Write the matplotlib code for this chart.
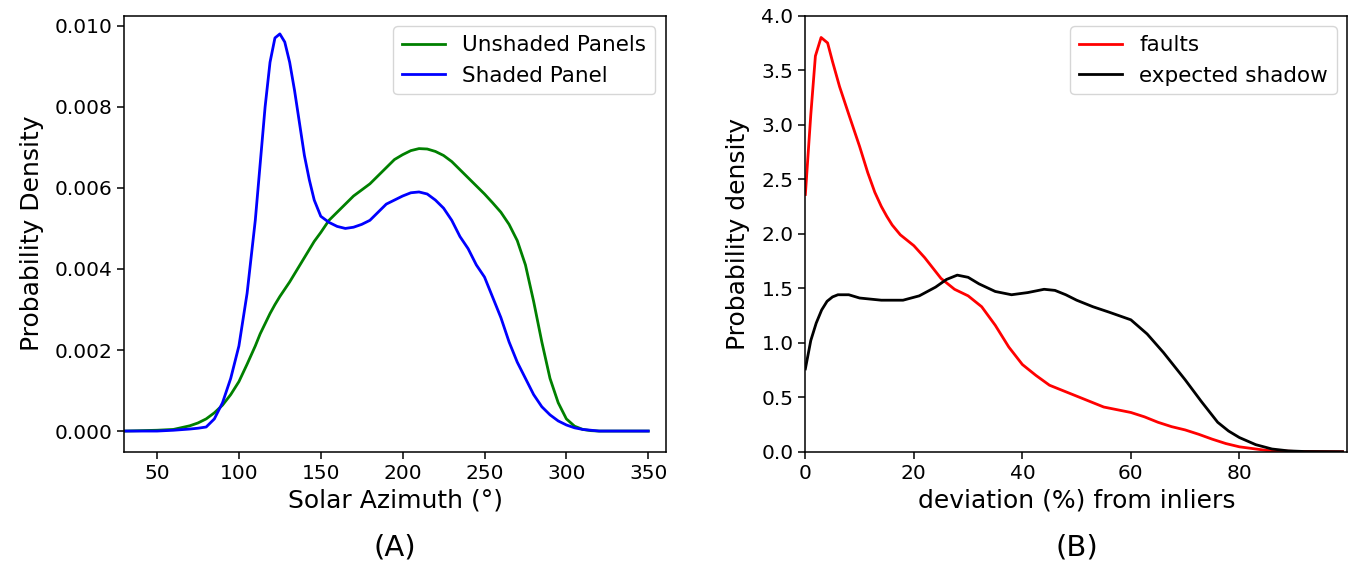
import matplotlib
matplotlib.use('Agg')
import matplotlib.pyplot as plt

# Panel A: probability density of solar azimuth (degrees)
azimuth = [30, 50, 60, 70, 75, 80, 85, 90, 95, 100, 105, 110, 113, 116, 119,
           122, 125, 128, 131, 134, 137, 140, 143, 146, 150, 155, 160, 165,
           170, 175, 180, 185, 190, 195, 200, 205, 210, 215, 220, 225, 230,
           235, 240, 245, 250, 255, 260, 265, 270, 275, 280, 285, 290, 295,
           300, 305, 310, 315, 320, 330, 350]
unshaded = [0.0, 0.00002, 0.00004, 0.00013, 0.0002, 0.0003, 0.00045, 0.00064,
            0.0009, 0.00122, 0.00165, 0.0021, 0.0024, 0.00265, 0.0029, 0.00312,
            0.00332, 0.0035, 0.00368, 0.00388, 0.00408, 0.00428, 0.00448,
            0.00468, 0.0049, 0.0052, 0.0054, 0.0056, 0.0058, 0.00595, 0.0061,
            0.0063, 0.0065, 0.0067, 0.00682, 0.00692, 0.00697, 0.00696,
            0.0069, 0.0068, 0.00665, 0.00645, 0.00625, 0.00605, 0.00585,
            0.00563, 0.0054, 0.0051, 0.0047, 0.0041, 0.0032, 0.0022, 0.0013,
            0.0007, 0.0003, 0.00012, 0.00004, 0.00001, 0.0, 0.0, 0.0]
shaded = [0.0, 0.0, 0.00002, 0.00005, 0.00007, 0.0001, 0.0003, 0.0007,
          0.0013, 0.0021, 0.0034, 0.0052, 0.0066, 0.0080, 0.0091, 0.0097,
          0.0098, 0.0096, 0.0091, 0.0084, 0.0076, 0.0068, 0.0062, 0.0057,
          0.0053, 0.00515, 0.00505, 0.0050, 0.00503, 0.0051, 0.0052, 0.0054,
          0.0056, 0.0057, 0.0058, 0.00588, 0.0059, 0.00585, 0.0057, 0.0055,
          0.0052, 0.0048, 0.0045, 0.0041, 0.0038, 0.0033, 0.0028, 0.0022,
          0.0017, 0.0013, 0.0009, 0.0006, 0.0004, 0.00025, 0.00015, 0.00008,
          0.00004, 0.00002, 0.0, 0.0, 0.0]

# Panel B: probability density of deviation (%) from inliers
dev_faults = [0, 1, 1.85, 2.9, 4.1, 5, 6.3, 8.1, 10, 11.5, 12.8, 14, 15, 16,
              17.5, 20, 22, 25, 27.5, 30, 32.5, 35, 37.5, 40, 42.5, 45, 47.5,
              50, 55, 60, 62.5, 65, 67.5, 70, 72.5, 75, 77.5, 80, 85, 90, 99]
faults = [2.36, 3.09, 3.63, 3.80, 3.75, 3.58, 3.35, 3.08, 2.80, 2.56, 2.38,
          2.25, 2.16, 2.08, 1.99, 1.89, 1.78, 1.59, 1.49, 1.43, 1.33, 1.16,
          0.96, 0.80, 0.70, 0.61, 0.56, 0.51, 0.41, 0.36, 0.32, 0.27, 0.23,
          0.20, 0.16, 0.115, 0.075, 0.045, 0.012, 0.003, 0.0]

dev_shadow = [0, 1, 2, 3, 4, 5, 6, 8, 10, 14, 18, 21, 24, 26, 28, 30, 32, 35,
              38, 41, 44, 46, 48, 50, 53, 56, 60, 63, 66, 70, 73, 76, 78, 80,
              83, 86, 89, 92, 99]
shadow = [0.76, 1.02, 1.18, 1.30, 1.38, 1.42, 1.44, 1.44, 1.41, 1.39, 1.39,
          1.43, 1.51, 1.58, 1.62, 1.60, 1.54, 1.47, 1.44, 1.46, 1.49, 1.48,
          1.44, 1.39, 1.33, 1.28, 1.21, 1.08, 0.91, 0.66, 0.46, 0.27, 0.19,
          0.13, 0.065, 0.025, 0.008, 0.002, 0.0]

TICK_SIZE = 14.5
LABEL_SIZE = 18
LEGEND_SIZE = 15.5
PANEL_SIZE = 21

fig = plt.figure(figsize=(13.54, 5.66), dpi=100)
ax1 = fig.add_axes([0.0918, 0.2019, 0.3999, 0.7704])
ax2 = fig.add_axes([0.5948, 0.2019, 0.4003, 0.7704])

ax1.plot(azimuth, unshaded, color='green', lw=2, label='Unshaded Panels')
ax1.plot(azimuth, shaded, color='blue', lw=2, label='Shaded Panel')
ax1.set_xlim(30, 360.7)
ax1.set_ylim(-0.00051, 0.01025)
ax1.set_xticks([50, 100, 150, 200, 250, 300, 350])
ax1.set_yticks([0, 0.002, 0.004, 0.006, 0.008, 0.010])
ax1.set_yticklabels(['0.000', '0.002', '0.004', '0.006', '0.008', '0.010'])
ax1.set_xlabel('Solar Azimuth (°)', fontsize=LABEL_SIZE)
ax1.set_ylabel('Probability Density', fontsize=LABEL_SIZE, labelpad=8)
ax1.legend(loc='upper right', fontsize=LEGEND_SIZE)

ax2.plot(dev_faults, faults, color='red', lw=2, label='faults')
ax2.plot(dev_shadow, shadow, color='black', lw=2, label='expected shadow')
ax2.set_xlim(0, 99.9)
ax2.set_ylim(0, 4.0)
ax2.set_xticks([0, 20, 40, 60, 80])
ax2.set_yticks([0, 0.5, 1.0, 1.5, 2.0, 2.5, 3.0, 3.5, 4.0])
ax2.set_xlabel('deviation (%) from inliers', fontsize=LABEL_SIZE)
ax2.set_ylabel('Probability density', fontsize=LABEL_SIZE, labelpad=8)
ax2.legend(loc='upper right', fontsize=LEGEND_SIZE)

for ax in (ax1, ax2):
    ax.tick_params(labelsize=TICK_SIZE, width=1.1, length=5)
    for sp in ax.spines.values():
        sp.set_linewidth(1.1)

fig.text(0.2918, 0.032, '(A)', fontsize=PANEL_SIZE, ha='center', va='center')
fig.text(0.7950, 0.032, '(B)', fontsize=PANEL_SIZE, ha='center', va='center')

fig.savefig('out.png', dpi=100)
